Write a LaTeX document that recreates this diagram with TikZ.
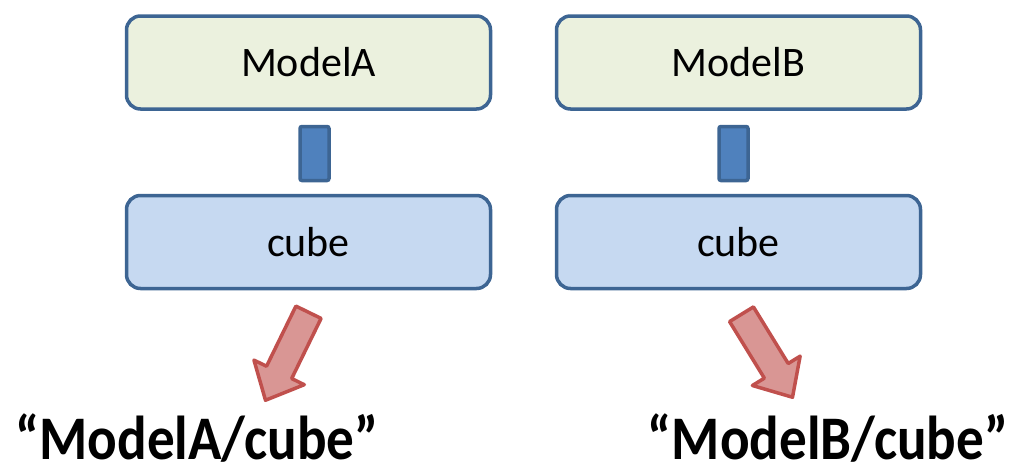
\documentclass[tikz,border=0pt]{standalone}
\usepackage{fontspec}
\usepackage{graphicx}
\setmainfont{Carlito}
\usetikzlibrary{positioning,calc}
\definecolor{edge}{HTML}{3D6593}
\definecolor{modfill}{HTML}{EBF1DE}
\definecolor{cubefill}{HTML}{C6D9F1}
\definecolor{linkfill}{HTML}{4F81BD}
\definecolor{pathfill}{HTML}{D99694}
\definecolor{pathedge}{HTML}{C0504D}
\tikzset{
  box/.style={draw=edge,line width=3.5pt,rounded corners=14pt,minimum width=364pt,minimum height=93pt,inner sep=0pt,font=\fontsize{42}{48}\selectfont},
  modbox/.style={box,fill=modfill},
  cubebox/.style={box,fill=cubefill},
  link/.style={draw=edge,fill=linkfill,line width=3.5pt,rounded corners=2pt,minimum width=29pt,minimum height=54pt,inner sep=0pt},
  fat/.style={draw=pathedge,fill=pathfill,line width=3.5pt,line join=round},
  pathlabel/.style={font=\bfseries\fontsize{62}{68}\selectfont,inner sep=0pt,anchor=base},
}
% thick block arrow from #1 to the tip #2
\newcommand\fatarrow[2]{%
  \coordinate (hb) at ($(#2)!31pt!(#1)$);
  \draw[fat] ($(#1)!14pt!90:(#2)$) -- ($(hb)!14pt!-90:(#1)$) -- ($(hb)!28pt!-90:(#1)$)
    -- (#2) -- ($(hb)!28pt!90:(#1)$) -- ($(hb)!14pt!90:(#1)$) -- ($(#1)!14pt!-90:(#2)$) -- cycle;
}
\newcommand\narrow[1]{\scalebox{0.89}[1]{#1}}

\begin{document}
\begin{tikzpicture}[x=1pt,y=-1pt]
\useasboundingbox (0,0) rectangle (1015,474);
% model A
\node[modbox] (modA) at (308.5,62.5) {ModelA};
\node[link,below=14pt of modA,xshift=6pt] (linkA) {};
\node[cubebox,below=83pt of modA] (cubeA) {cube};
% model B
\node[modbox] (modB) at (738.5,62.5) {ModelB};
\node[link,below=14pt of modB,xshift=-5pt] (linkB) {};
\node[cubebox,below=83pt of modB] (cubeB) {cube};
% resulting paths
\coordinate (tailA) at ($(cubeA.south)+(0,22)$);
\coordinate (tipA) at ($(cubeA.south)+(-43,110)$);
\coordinate (tailB) at ($(cubeB.south)+(3,24)$);
\coordinate (tipB) at ($(cubeB.south)+(54,107)$);
\fatarrow{tailA}{tipA}
\fatarrow{tailB}{tipB}
\node[pathlabel] (pathA) at (197,459) {\narrow{“ModelA/cube”}};
\node[pathlabel] (pathB) at (828,459) {\narrow{“ModelB/cube”}};
\end{tikzpicture}
\end{document}
